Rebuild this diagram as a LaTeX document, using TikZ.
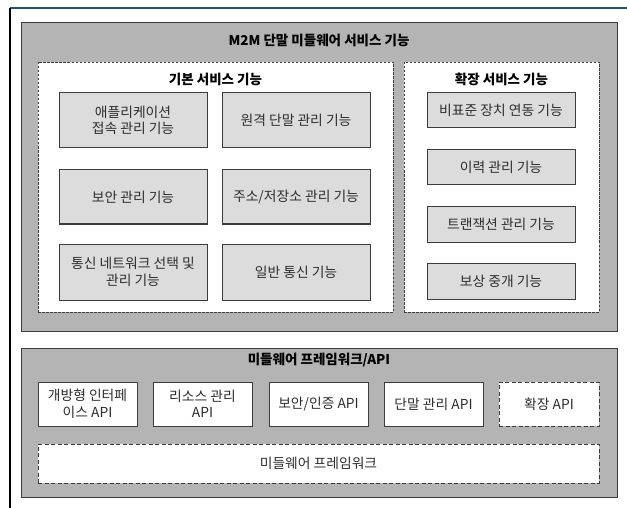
\documentclass[tikz,border=0pt]{standalone}
\usepackage{fontspec}
\setmainfont{Noto Sans CJK KR}
\definecolor{outerg}{RGB}{180,180,180}
\definecolor{innerg}{RGB}{220,220,220}
\definecolor{edgeg}{RGB}{60,60,60}
\definecolor{txtg}{RGB}{45,45,45}
\definecolor{topline}{RGB}{30,85,115}
\tikzset{
  panel/.style={draw=edgeg, line width=1pt, fill=outerg, inner sep=0pt},
  group/.style={draw=edgeg, line width=0.9pt, dash pattern=on 2.5pt off 1.5pt, fill=white, inner sep=0pt},
  fbox/.style={draw=edgeg, line width=1pt, fill=innerg, inner sep=0pt, align=center, text=txtg, font=\fontsize{13.8}{16.5}\selectfont},
  abox/.style={draw=edgeg, line width=1pt, fill=white, inner sep=0pt, align=center, text=txtg, font=\fontsize{13.8}{16.5}\selectfont},
  dbox/.style={draw=edgeg, line width=1pt, dash pattern=on 4pt off 2.5pt, fill=white, inner sep=0pt, align=center, text=txtg, font=\fontsize{13.8}{16.5}\selectfont},
  ttl/.style={font=\bfseries\fontsize{13.5}{16}\selectfont, inner sep=0pt}
}
\begin{document}
\begin{tikzpicture}[x=1pt,y=-1pt]
\useasboundingbox (0,0) rectangle (627,508);
% page frame
\coordinate (ftl) at (10,8);
\coordinate (ftr) at (627,8);
\coordinate (fbl) at (10,508);
\draw[topline, line width=2pt] (ftl) -- (ftr);
\draw[black, line width=1.3pt] (ftl) -- (fbl);

% M2M panel
\node[panel, minimum width=596pt, minimum height=308pt] (m2m) at (319,177) {};
\node[ttl] (m2mt) at (319,40) {M2M 단말 미들웨어 서비스 기능};

% basic group
\node[group, minimum width=355pt, minimum height=250pt] (basic) at (215.5,187) {};
\node[ttl] (basict) at (215.5,79) {기본 서비스 기능};
\node[fbox, minimum width=148pt, minimum height=55pt] (b1) at (133,120.5) {애플리케이션\\접속 관리 기능};
\node[fbox, minimum width=148pt, minimum height=55pt] (b2) at (296,120.5) {원격 단말 관리 기능};
\node[fbox, minimum width=148pt, minimum height=54pt] (b3) at (133,197) {보안 관리 기능};
\node[fbox, minimum width=148pt, minimum height=54pt] (b4) at (296,197) {주소/저장소 관리 기능};
\node[fbox, minimum width=148pt, minimum height=56pt] (b5) at (133,272) {통신 네트워크 선택 및\\관리 기능};
\node[fbox, minimum width=148pt, minimum height=56pt] (b6) at (296,272) {일반 통신 기능};

% extension group
\node[group, minimum width=195pt, minimum height=250pt] (ext) at (501.5,187) {};
\node[ttl] (extt) at (501.5,79) {확장 서비스 기능};
\node[fbox, minimum width=148pt, minimum height=35pt] (e1) at (501,110.5) {비표준 장치 연동 기능};
\node[fbox, minimum width=148pt, minimum height=35pt] (e2) at (501,167.5) {이력 관리 기능};
\node[fbox, minimum width=148pt, minimum height=35pt] (e3) at (501,224.5) {트랜잭션 관리 기능};
\node[fbox, minimum width=148pt, minimum height=36pt] (e4) at (501,281) {보상 중개 기능};

% middleware panel
\node[panel, minimum width=596pt, minimum height=149pt] (mw) at (319,422.5) {};
\node[ttl] (mwt) at (319,360) {미들웨어 프레임워크/API};
\node[abox, minimum width=99pt, minimum height=44pt] (a1) at (87.5,404) {개방형 인터페\\이스 API};
\node[abox, minimum width=99pt, minimum height=44pt] (a2) at (202.5,404) {리소스 관리\\API};
\node[abox, minimum width=99pt, minimum height=44pt] (a3) at (318.5,404) {보안/인증 API};
\node[abox, minimum width=99pt, minimum height=44pt] (a4) at (433.5,404) {단말 관리 API};
\node[dbox, minimum width=100pt, minimum height=44pt] (a5) at (549,404) {확장 API};
\node[dbox, minimum width=561pt, minimum height=39pt] (fw) at (318.5,463.5) {미들웨어 프레임워크};
\end{tikzpicture}
\end{document}
